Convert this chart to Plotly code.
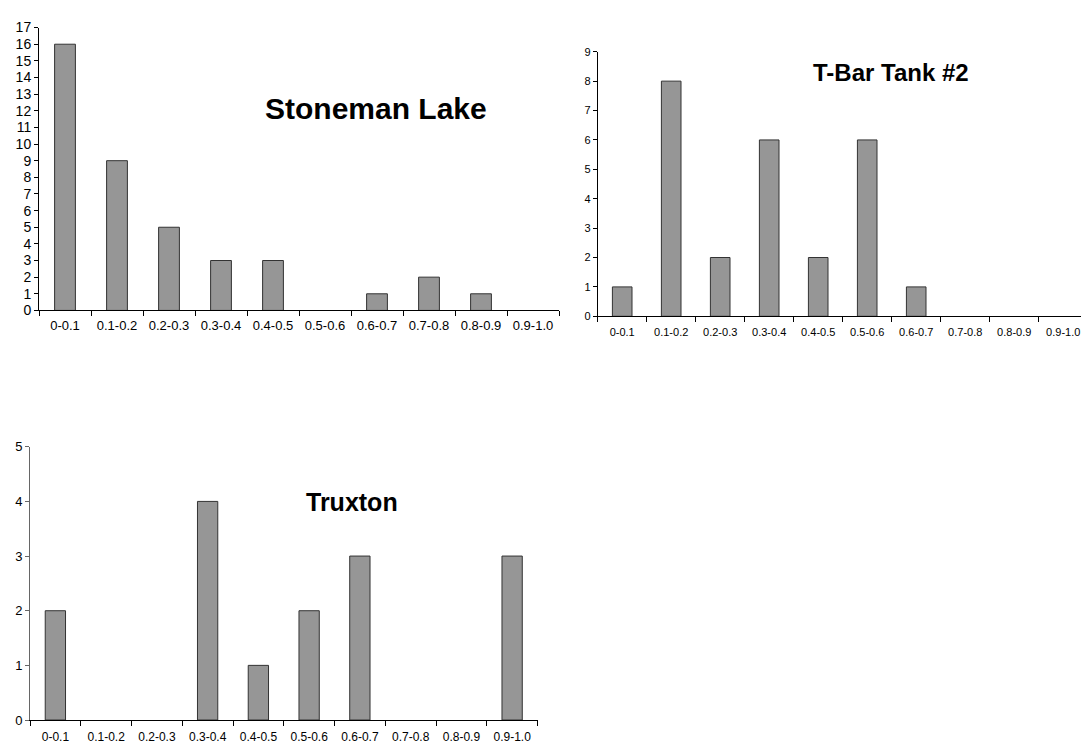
import plotly.graph_objects as go

categories = ["0-0.1", "0.1-0.2", "0.2-0.3", "0.3-0.4", "0.4-0.5",
              "0.5-0.6", "0.6-0.7", "0.7-0.8", "0.8-0.9", "0.9-1.0"]

stoneman_counts = [16, 9, 5, 3, 3, 0, 1, 2, 1, 0]
tbar_counts = [1, 8, 2, 6, 2, 6, 1, 0, 0, 0]
truxton_counts = [2, 0, 0, 4, 1, 2, 3, 0, 0, 3]

BAR_FILL = "#969696"
BAR_EDGE = "#333333"
FONT = "Liberation Sans, Arial, sans-serif"

fig = go.Figure()

panels = [
    (stoneman_counts, "x", "y"),
    (tbar_counts, "x2", "y2"),
    (truxton_counts, "x3", "y3"),
]
for counts, xa, ya in panels:
    # empty bins get no outline, so nothing is drawn for them
    edge_w = [1 if v else 0 for v in counts]
    fig.add_trace(go.Bar(
        x=categories, y=counts, xaxis=xa, yaxis=ya,
        marker=dict(color=BAR_FILL, line=dict(color=BAR_EDGE, width=edge_w)),
        showlegend=False, hoverinfo="x+y",
    ))


def x_axis(domain, anchor, size, standoff, rng=None, color="black"):
    ax = dict(domain=domain, anchor=anchor, type="category",
              tickson="boundaries", ticks="outside", ticklen=5,
              tickcolor=color, showline=True, linecolor=color, linewidth=1,
              showgrid=False, zeroline=False, fixedrange=True,
              ticklabelstandoff=standoff,
              tickfont=dict(family=FONT, size=size, color="black"))
    if rng is not None:
        ax["range"] = rng
    return ax


def y_axis(domain, anchor, top, size, color="black"):
    return dict(domain=domain, anchor=anchor, range=[0, top], dtick=1,
                ticks="outside", ticklen=4, tickcolor=color,
                showline=True, linecolor=color, linewidth=1,
                showgrid=False, zeroline=False, fixedrange=True,
                tickfont=dict(family=FONT, size=size, color="black"))


W, H = 1081, 752

fig.update_layout(
    width=W, height=H,
    margin=dict(l=0, r=0, t=0, b=0),
    paper_bgcolor="white", plot_bgcolor="white",
    bargap=0.6,
    xaxis=x_axis([39 / W, 559 / W], "y", 13, 3),
    yaxis=y_axis([1 - 309 / H, 1 - 20 / H], "x", 17, 14),
    xaxis2=x_axis([597.7 / W, 1.0], "y2", 11, 6, rng=[-0.5, 9.363]),
    yaxis2=y_axis([1 - 315 / H, 1 - 44.7 / H], "x2", 9, 11),
    xaxis3=x_axis([30 / W, 537.5 / W], "y3", 12, 6),
    yaxis3=y_axis([1 - 727.5 / H, 1 - 448.3 / H], "x3", 5, 13, color="#666666"),
)

titles = [
    ("Stoneman Lake", 376, 103, 30),
    ("T-Bar Tank #2", 891, 66, 24),
    ("Truxton", 352, 505, 25),
]
for text, px, py, size in titles:
    fig.add_annotation(
        text=f"<b>{text}</b>", x=px / W, y=1 - py / H,
        xref="paper", yref="paper", showarrow=False,
        xanchor="center", yanchor="middle",
        font=dict(family=FONT, size=size, color="black"),
    )

fig.write_html(
    "out.html",
    config={"displayModeBar": False},
    post_script="document.body.style.margin='0';document.body.style.overflow='hidden';",
)
